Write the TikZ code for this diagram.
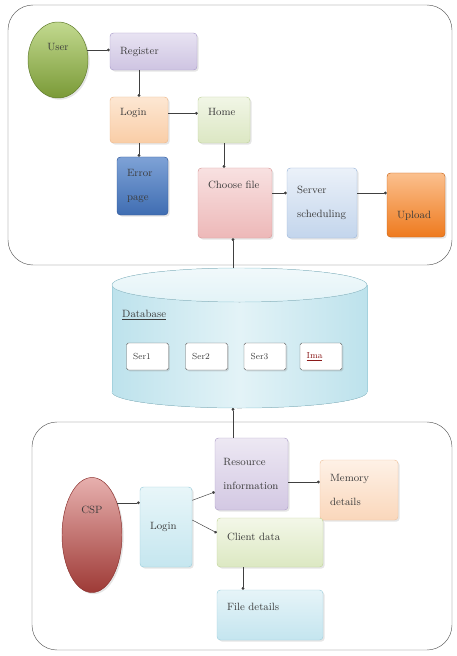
\documentclass[tikz,border=0pt]{standalone}
\usetikzlibrary{arrows.meta,shapes.geometric,shadows}

\definecolor{txtgray}{HTML}{3C3C3C}
\definecolor{linegray}{HTML}{404040}
\definecolor{panelgray}{HTML}{5F5F5F}
\definecolor{imared}{HTML}{8B1A1A}
\definecolor{usertop}{HTML}{C2D98F}
\definecolor{userbot}{HTML}{7A9A37}
\definecolor{userline}{HTML}{5E7A2A}
\definecolor{regtop}{HTML}{E8E3F2}
\definecolor{regbot}{HTML}{CEC4E2}
\definecolor{regline}{HTML}{ADA0CC}
\definecolor{logtop}{HTML}{FDE7D3}
\definecolor{logbot}{HTML}{F9CDA6}
\definecolor{logline}{HTML}{EDB98E}
\definecolor{hometop}{HTML}{F1F6E6}
\definecolor{homebot}{HTML}{DCE7C3}
\definecolor{homeline}{HTML}{C2D3A0}
\definecolor{errtop}{HTML}{7EA2D6}
\definecolor{errbot}{HTML}{3F6DB2}
\definecolor{errline}{HTML}{31589A}
\definecolor{chtop}{HTML}{F8E1E1}
\definecolor{chbot}{HTML}{EDB8B8}
\definecolor{chline}{HTML}{D99C9C}
\definecolor{svtop}{HTML}{EBF1F9}
\definecolor{svbot}{HTML}{C3D5EC}
\definecolor{svline}{HTML}{A0B9DB}
\definecolor{uptop}{HTML}{FBC08E}
\definecolor{upbot}{HTML}{EE7A1E}
\definecolor{upline}{HTML}{C9661A}
\definecolor{dbside}{HTML}{BDE2EC}
\definecolor{dbmid}{HTML}{E3F3F7}
\definecolor{dbcap}{HTML}{F1F9FB}
\definecolor{dbline}{HTML}{A4D2DE}
\definecolor{csptop}{HTML}{E7B0AE}
\definecolor{cspmid}{HTML}{C85752}
\definecolor{cspbot}{HTML}{9E3A36}
\definecolor{cspline}{HTML}{8A2F2C}
\definecolor{lgtop}{HTML}{E8F6F9}
\definecolor{lgbot}{HTML}{C5E6EF}
\definecolor{lgline}{HTML}{9FCFDD}
\definecolor{restop}{HTML}{EDE8F3}
\definecolor{resbot}{HTML}{D3C8E3}
\definecolor{resline}{HTML}{B2A3CB}
\definecolor{memtop}{HTML}{FEF1E6}
\definecolor{membot}{HTML}{FAD7BB}
\definecolor{memline}{HTML}{F0C4A0}
\definecolor{cltop}{HTML}{F3F7E8}
\definecolor{clbot}{HTML}{DCE8C2}
\definecolor{clline}{HTML}{C4D79E}
\definecolor{fltop}{HTML}{E6F4F8}
\definecolor{flbot}{HTML}{C4E5EF}
\definecolor{flline}{HTML}{A3D2E0}

\tikzset{
	box/.style={rounded corners=3pt, inner xsep=0.3cm, inner ysep=0pt, align=left, text=txtgray, font=\fontsize{9}{21}\selectfont, drop shadow={opacity=0.2, shadow xshift=0.05cm, shadow yshift=-0.05cm}},
	oval/.style={ellipse, inner sep=0pt, align=center, text=txtgray, font=\fontsize{9}{11}\selectfont, drop shadow={opacity=0.2, shadow xshift=0.05cm, shadow yshift=-0.05cm}},
	serbox/.style={rounded corners=1.5pt, draw=gray!80!black, fill=white, text width=0.86cm, inner xsep=0.2cm, minimum height=0.81cm, align=left, text=txtgray, font=\fontsize{7.5}{9}\selectfont, drop shadow={opacity=0.25, shadow xshift=0.04cm, shadow yshift=-0.04cm}},
	arr/.style={draw=linegray, thin, -{Circle[length=2.4pt]}},
	panel/.style={draw=panelgray, thin, rounded corners=0.75cm}
}

\begin{document}
\begin{tikzpicture}[x=0.03cm, y=-0.03cm]
	\useasboundingbox (0,0) rectangle (457,656);
	\fill[white] (0,0) rectangle (457,656);

	\draw[panel] (8,5) rectangle (452,265);
	\draw[panel] (32,422) rectangle (452,650);

	\node[oval, minimum width=1.8cm, minimum height=2.28cm, text height=0.2cm, text depth=0.78cm, top color=usertop, bottom color=userbot, draw=userline] (user) at (58,60) {User};
	\node[box, text width=2.01cm, minimum height=1.11cm, top color=regtop, bottom color=regbot, draw=regline] (register) at (153.5,51.5) {Register};
	\node[box, text width=1.14cm, minimum height=1.38cm, text height=0.2cm, text depth=0.48cm, top color=logtop, bottom color=logbot, draw=logline] (login) at (139,120) {Login};
	\node[box, text width=0.96cm, minimum height=1.38cm, text height=0.2cm, text depth=0.48cm, top color=hometop, bottom color=homebot, draw=homeline] (home) at (224,120) {Home};
	\node[box, text width=0.93cm, minimum height=1.74cm, top color=errtop, bottom color=errbot, draw=errline] (error) at (142.5,186) {Error\\page};
	\node[box, text width=1.62cm, minimum height=2.1cm, text height=0.2cm, text depth=1.08cm, top color=chtop, bottom color=chbot, draw=chline] (choose) at (235,203) {Choose file};
	\node[box, text width=1.5cm, minimum height=2.1cm, top color=svtop, bottom color=svbot, draw=svline] (server) at (322,203) {Server\\scheduling};
	\node[box, text width=1.14cm, minimum height=1.92cm, text height=0.8cm, text depth=0cm, top color=uptop, bottom color=upbot, draw=upline] (upload) at (416,205) {Upload};

	\draw[arr] (user.19) -- (user.19 -| register.west);
	\draw[arr] (login.north |- register.south) -- (login.north);
	\draw[arr] ([yshift=0.2cm]login.east) -- ([yshift=0.2cm]login.east -| home.west);
	\draw[arr] (login.south) -- (login.south |- error.north);
	\draw[arr] (home.south) -- (home.south |- choose.north);
	\draw[arr] ([yshift=0.3cm]choose.east) -- ([yshift=0.3cm]choose.east -| server.west);
	\draw[arr] ([yshift=0.3cm]server.east) -- ([yshift=0.3cm]server.east -| upload.west);

	\fill[left color=dbside, right color=dbside, middle color=dbmid, draw=dbline] (239.5,392) ellipse[x radius=127.5, y radius=16];
	\fill[left color=dbside, right color=dbside, middle color=dbmid] (112,285) rectangle (367,392);
	\draw[dbline] (112,285) -- (112,392) (367,285) -- (367,392);
	\fill[top color=dbcap, bottom color=dbmid, draw=dbline] (239.5,285) ellipse[x radius=127.5, y radius=17];
	\coordinate (dbtop) at (233,268);
	\coordinate (dbbot) at (233,408);

	\node[anchor=west, inner sep=0pt, text=txtgray, font=\fontsize{9}{11}\selectfont] (dblabel) at (122,315) {\underline{Database}};
	\node[serbox] (ser1) at (147.5,356.5) {Ser1};
	\node[serbox] (ser2) at (206.5,356.5) {Ser2};
	\node[serbox] (ser3) at (265,356.5) {Ser3};
	\node[serbox, text=imared] (ima) at (321,356.5) {\underline{Ima}};

	\draw[arr] (dbtop) -- (dbtop |- choose.south);

	\node[oval, minimum width=1.8cm, minimum height=3.45cm, text height=0.2cm, text depth=1.5cm, top color=csptop, middle color=cspmid, bottom color=cspbot, draw=cspline] (csp) at (92,535) {CSP};
	\node[box, text width=0.96cm, minimum height=2.4cm, top color=lgtop, bottom color=lgbot, draw=lgline] (cspLogin) at (166,527) {Login};
	\node[box, inner xsep=0.25cm, text width=1.69cm, minimum height=2.16cm, top color=restop, bottom color=resbot, draw=resline] (resource) at (251.5,474) {Resource\\information};
	\node[box, text width=1.74cm, minimum height=1.8cm, top color=memtop, bottom color=membot, draw=memline] (memory) at (359,490) {Memory\\details};
	\node[box, text width=2.58cm, minimum height=1.47cm, text height=0.2cm, text depth=0.3cm, top color=cltop, bottom color=clbot, draw=clline] (client) at (270,542.5) {Client data};
	\node[box, text width=2.58cm, minimum height=1.5cm, text height=0.2cm, text depth=0.48cm, top color=fltop, bottom color=flbot, draw=flline] (files) at (270,615) {File details};

	\draw[arr] (csp.52) -- (csp.52 -| cspLogin.west);
	\draw[arr] ([yshift=0.8cm]cspLogin.east) -- ([yshift=-0.54cm]resource.west);
	\draw[arr] ([yshift=0.21cm]cspLogin.east) -- ([yshift=0.29cm]client.west);
	\draw[arr] ([yshift=-0.24cm]resource.east) -- ([yshift=-0.24cm]resource.east -| memory.west);
	\draw[arr] ([xshift=-0.81cm]client.south) -- ([xshift=-0.81cm]files.north);
	\draw[arr] (dbbot |- resource.north) -- (dbbot);
\end{tikzpicture}
\end{document}
